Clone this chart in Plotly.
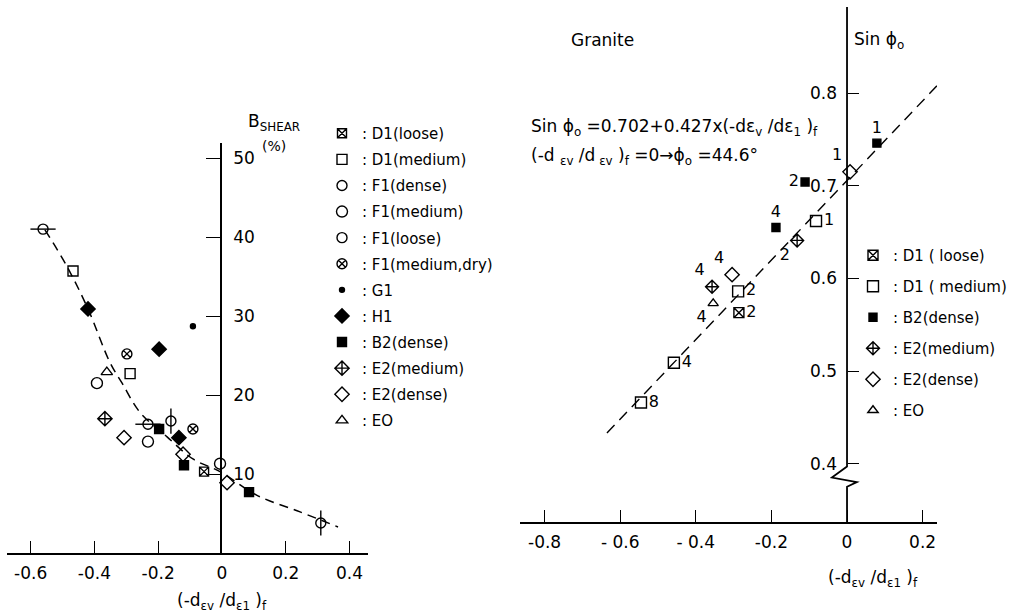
import plotly.graph_objects as go

W, H = 1013, 613
FONT = "DejaVu Sans"
INK = "black"

# ---------------- Left panel: B_shear (%) vs (-dev/de1)f ----------------
d1_loose_x = [-0.056]
d1_loose_b = [10.3]
d1_med_x = [-0.467, -0.288]
d1_med_b = [35.7, 22.7]
f1_dense_x = [-0.160, 0.310]
f1_dense_b = [16.7, 3.8]
f1_med_x = [-0.392, -0.232, -0.006]
f1_med_b = [21.5, 14.1, 11.3]
f1_loose_x = [-0.561, -0.232]
f1_loose_b = [41.0, 16.3]
f1_dry_x = [-0.298, -0.091]
f1_dry_b = [25.2, 15.7]
g1_x = [-0.091]
g1_b = [28.7]
h1_x = [-0.420, -0.197, -0.135]
h1_b = [30.9, 25.8, 14.6]
b2_x = [-0.197, -0.119, 0.085]
b2_b = [15.7, 11.1, 7.7]
e2_med_x = [-0.367]
e2_med_b = [17.0]
e2_dense_x = [-0.307, -0.122, 0.016]
e2_dense_b = [14.6, 12.5, 8.9]
e0_x = [-0.361]
e0_b = [22.9]

# hand-fitted trend curve
trend_x = [-0.555, -0.489, -0.420, -0.351, -0.313, -0.257, -0.172, -0.091, -0.006, 0.110, 0.245, 0.364]
trend_b = [40.9, 36.5, 30.9, 24.1, 21.5, 17.8, 14.7, 11.9, 10.3, 7.3, 5.2, 3.3]

left_xticks = [-0.6, -0.4, -0.2, 0, 0.2, 0.4]
left_yticks = [10, 20, 30, 40, 50]

# ---------------- Right panel: Sin phi_o vs (-dev/de1)f ----------------
r_d1_loose_x = [-0.286]
r_d1_loose_s = [0.563]
r_d1_loose_n = ["2"]
r_d1_med_x = [-0.082, -0.288, -0.458, -0.545]
r_d1_med_s = [0.662, 0.586, 0.509, 0.466]
r_d1_med_n = ["1", "2", "4", "8"]
r_b2_x = [0.079, -0.111, -0.188]
r_b2_s = [0.746, 0.704, 0.655]
r_b2_n = ["1", "2", "4"]
r_e2_med_x = [-0.132, -0.357]
r_e2_med_s = [0.641, 0.591]
r_e2_med_n = ["2", "4"]
r_e2_dense_x = [0.008, -0.304]
r_e2_dense_s = [0.715, 0.604]
r_e2_dense_n = ["1", "4"]
r_e0_x = [-0.354]
r_e0_s = [0.573]
r_e0_n = ["4"]

# regression line Sin phi_o = 0.702 + 0.427 x, drawn between its end points
fit_x = [-0.635, 0.259]
fit_s = [0.433, 0.817]

right_xticks = [-0.8, -0.6, -0.4, -0.2, 0, 0.2]
right_yticks = [0.4, 0.5, 0.6, 0.7, 0.8]


def px(x):
    return x / W


def py(y):
    return 1 - y / H


fig = go.Figure()


def add_series(x, y, name, symbol, size=10, xa="x", ya="y", legend="legend",
               text=None, textpos=None, lw=1.4, overlay=None):
    fig.add_trace(go.Scatter(
        x=x, y=y, mode="markers+text" if text else "markers",
        name=name, legend=legend, legendgroup=legend + name,
        xaxis=xa, yaxis=ya,
        text=text, textposition=textpos,
        textfont=dict(family=FONT, size=16, color=INK),
        marker=dict(symbol=symbol, size=size, color=INK,
                    line=dict(color=INK, width=lw)),
        cliponaxis=False,
    ))
    if overlay:
        fig.add_trace(go.Scatter(
            x=x, y=y, mode="markers", showlegend=False,
            legend=legend, legendgroup=legend + name,
            xaxis=xa, yaxis=ya,
            marker=dict(symbol=overlay, size=size + 8, color=INK,
                        line=dict(color=INK, width=lw)),
            cliponaxis=False,
        ))


# left panel trend curve
fig.add_trace(go.Scatter(
    x=trend_x, y=trend_b, mode="lines", line_shape="spline", showlegend=False,
    line=dict(color=INK, width=1.5, dash="9px,6px"), xaxis="x", yaxis="y",
))

add_series(d1_loose_x, d1_loose_b, ": D1(loose)", "square-x-open", 9)
add_series(d1_med_x, d1_med_b, ": D1(medium)", "square-open", 10)
add_series(f1_dense_x, f1_dense_b, ": F1(dense)", "circle-open", 10, overlay="line-ns-open")
add_series(f1_med_x, f1_med_b, ": F1(medium)", "circle-open", 11)
add_series(f1_loose_x, f1_loose_b, ": F1(loose)", "circle-open", 10, overlay="line-ew-open")
add_series(f1_dry_x, f1_dry_b, ": F1(medium,dry)", "circle-x-open", 10)
add_series(g1_x, g1_b, ": G1", "circle", 5)
add_series(h1_x, h1_b, ": H1", "diamond", 11)
add_series(b2_x, b2_b, ": B2(dense)", "square", 9)
add_series(e2_med_x, e2_med_b, ": E2(medium)", "diamond-cross-open", 11)
add_series(e2_dense_x, e2_dense_b, ": E2(dense)", "diamond-open", 11)
add_series(e0_x, e0_b, ": EO", "triangle-up-open", 10)

# right panel regression line
fig.add_trace(go.Scatter(
    x=fit_x, y=fit_s, mode="lines", showlegend=False,
    line=dict(color=INK, width=1.4, dash="11px,7px"), xaxis="x2", yaxis="y2",
))

add_series(r_d1_loose_x, r_d1_loose_s, ": D1 ( loose)", "square-x-open", 10, "x2", "y2",
           "legend2", r_d1_loose_n, ["middle right"])
add_series(r_d1_med_x, r_d1_med_s, ": D1 ( medium)", "square-open", 11, "x2", "y2",
           "legend2", r_d1_med_n, ["middle right"] * 4)
add_series(r_b2_x, r_b2_s, ": B2(dense)", "square", 8, "x2", "y2",
           "legend2", r_b2_n, ["top center", "middle left", "top center"])
add_series(r_e2_med_x, r_e2_med_s, ": E2(medium)", "diamond-cross-open", 10, "x2", "y2",
           "legend2", r_e2_med_n, ["bottom left", "top left"])
add_series(r_e2_dense_x, r_e2_dense_s, ": E2(dense)", "diamond-open", 11, "x2", "y2",
           "legend2", r_e2_dense_n, ["top left", "top left"])
add_series(r_e0_x, r_e0_s, ": EO", "triangle-up-open", 9, "x2", "y2",
           "legend2", r_e0_n, ["bottom left"])

tickfont = dict(family=FONT, size=17, color=INK)
axis_common = dict(showgrid=False, zeroline=False, linecolor=INK, linewidth=1.8,
                   tickcolor=INK, tickwidth=1.4, tickfont=tickfont)

fig.update_layout(
    width=W, height=H,
    margin=dict(l=0, r=0, t=0, b=0),
    paper_bgcolor="white", plot_bgcolor="rgba(0,0,0,0)",
    font=dict(family=FONT, color=INK),
    xaxis=dict(domain=[px(7), px(368)], range=[-0.674, 0.458], anchor="y",
               tickvals=left_xticks, ticktext=["-0.6", "-0.4", "-0.2", "0", "0.2", "0.4"],
               ticks="inside", ticklen=12, showline=True, ticklabelstandoff=4,
               **axis_common),
    yaxis=dict(domain=[py(553), py(143)], range=[0, 51.9], anchor="free",
               position=px(221), side="right", tickvals=left_yticks,
               ticks="inside", ticklen=14, showline=True, ticklabelstandoff=8,
               **axis_common),
    xaxis2=dict(domain=[px(520), px(937)], range=[-0.865, 0.238], anchor="y2",
                tickvals=right_xticks, ticktext=["-0.8", "- 0.6", "- 0.4", "-0.2", "0", "0.2"],
                ticks="inside", ticklen=12, showline=True, ticklabelstandoff=4,
                **axis_common),
    yaxis2=dict(domain=[py(522), py(7)], range=[0.337, 0.893], anchor="free",
                position=px(847), side="left", tickvals=right_yticks,
                ticks="inside", ticklen=11, showline=False, ticklabelstandoff=10,
                **axis_common),
    legend=dict(x=px(322), y=py(117), xanchor="left", yanchor="top",
                bgcolor="rgba(0,0,0,0)", borderwidth=0, tracegroupgap=3.6,
                itemsizing="trace", font=dict(family=FONT, size=15, color=INK)),
    legend2=dict(x=px(853), y=py(239), xanchor="left", yanchor="top",
                 bgcolor="rgba(0,0,0,0)", borderwidth=0, tracegroupgap=8.5,
                 itemsizing="trace", font=dict(family=FONT, size=15, color=INK)),
    showlegend=True,
)

# right y-axis with its break symbol
fig.add_shape(type="path", xref="x2", yref="y2",
              path="M 0,0.893 L 0,0.397 L -0.040,0.385 L 0.026,0.380 L 0,0.375 L 0,0.337",
              line=dict(color=INK, width=1.8))

ann_font = dict(family=FONT, size=17, color=INK)
xlabel = "(-d<sub>εv</sub> /d<sub>ε1</sub> )<sub>f</sub>"
annotations = [
    dict(x=px(222), y=py(601), text=xlabel, xanchor="center", yanchor="middle"),
    dict(x=px(873), y=py(578), text=xlabel, xanchor="center", yanchor="middle"),
    dict(x=px(246), y=py(122), text="B<sub>SHEAR</sub>", xanchor="left", yanchor="middle"),
    dict(x=px(260), y=py(146), text="(%)", xanchor="left", yanchor="middle",
         font=dict(family=FONT, size=14, color=INK)),
    dict(x=px(569), y=py(40), text="Granite", xanchor="left", yanchor="middle"),
    dict(x=px(852), y=py(40), text="Sin ϕ<sub>o</sub>", xanchor="left", yanchor="middle"),
    dict(x=px(529), y=py(128),
         text="Sin ϕ<sub>o</sub> =0.702+0.427x(-dε<sub>v</sub> /dε<sub>1</sub> )<sub>f</sub>",
         xanchor="left", yanchor="middle"),
    dict(x=px(529), y=py(156),
         text="(-d <sub>εv</sub> /d<sub> εv</sub> )<sub>f</sub> =0→ϕ<sub>o</sub> =44.6°",
         xanchor="left", yanchor="middle"),
]
for a in annotations:
    a.setdefault("font", ann_font)
    fig.add_annotation(xref="paper", yref="paper", showarrow=False, **a)

fig.write_html("out.html")
